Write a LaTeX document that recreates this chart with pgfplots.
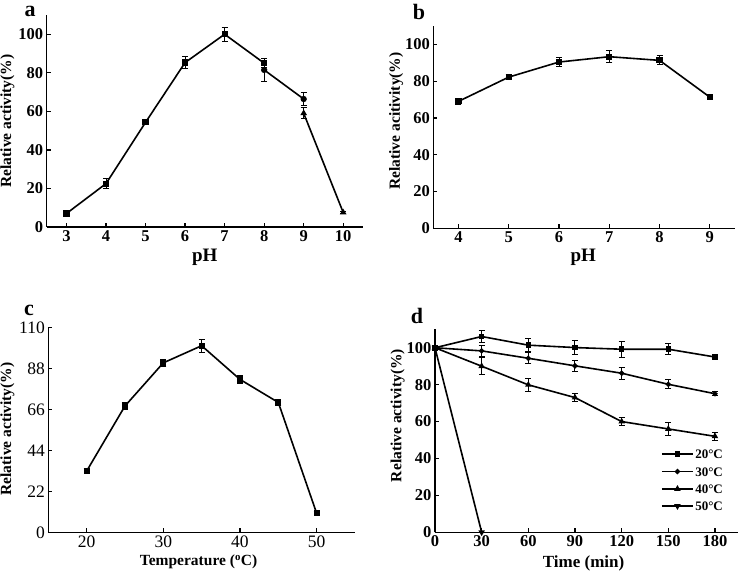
\documentclass[border=0pt]{standalone}
\usepackage{pgfplots}
\pgfplotsset{compat=1.18}
\usepackage{fontspec}
\setmainfont{Liberation Serif}

\pgfplotsset{
  panel/.style={
    scale only axis,
    axis lines=left,
    axis line style={-, line width=1.4pt},
    tick align=inside,
    major tick length=4pt,
    tick style={line width=1.2pt, black},
    clip=false,
    /pgf/number format/assume math mode=true,
    ticklabel style={font=\fontsize{16.5}{18}\selectfont\bfseries},
    label style={font=\fontsize{15.5}{18}\selectfont\bfseries},
    every axis plot/.append style={line width=1.6pt, black, mark size=2.3pt},
  },
  eb/.style={error bars/.cd, y dir=both, y explicit,
    error bar style={line width=1pt},
    error mark options={rotate=90, mark size=3pt, line width=1pt}},
}

\begin{document}
\begin{tikzpicture}
\useasboundingbox (0pt,0pt) rectangle (740pt,572pt);

% ---- a: pH optimum
\begin{axis}[panel, at={(46.7pt,345pt)}, anchor=south west,
  width=316.3pt, height=212pt,
  xmin=2.5, xmax=10.5, ymin=0, ymax=110,
  xtick={3,...,10}, ytick={0,20,...,100},
  xlabel={pH}, ylabel={Relative activity(\%)},
  xlabel style={at={(axis description cs:0.5,-0.145)}, anchor=center,
    font=\fontsize{19}{20}\selectfont\bfseries},
  ylabel style={at={(axis description cs:-0.124,0.5)}, anchor=center}]
\addplot[mark=square*, eb] table[x=x, y=y, y error=e] {
x y e
3 7 1
4 22.5 2.6
5 54.3 0.5
6 85.3 3
7 100 3.5
8 85 2.5
};
\addplot[mark=*, eb] table[x=x, y=y, y error=e] {
x y e
8 81.5 6
9 66.4 3.5
};
\addplot[mark=triangle*, eb] table[x=x, y=y, y error=e] {
x y e
9 59 2.8
10 7.5 0.5
};
\end{axis}

% ---- b: pH stability
\begin{axis}[panel, at={(433.3pt,343.7pt)}, anchor=south west,
  width=301.7pt, height=202.3pt,
  xmin=3.5, xmax=9.5, ymin=0, ymax=110,
  xtick={4,...,9}, ytick={0,20,...,100},
  xlabel={pH}, ylabel={Relative acitivity(\%)},
  xlabel style={at={(axis description cs:0.497,-0.145)}, anchor=center,
    font=\fontsize{19}{20}\selectfont\bfseries},
  ylabel style={at={(axis description cs:-0.123,0.53)}, anchor=center}]
\addplot[mark=square*, eb] table[x=x, y=y, y error=e] {
x y e
4 69 1.5
5 82.2 1.5
6 90.4 2.5
7 93.3 3.4
8 91.3 2.5
9 71.3 1.5
};
\end{axis}

% ---- c: temperature optimum
\begin{axis}[panel, at={(48.3pt,39.7pt)}, anchor=south west,
  width=306.7pt, height=204.6pt,
  xmin=15, xmax=55, ymin=0, ymax=110,
  xtick={20,30,40,50}, ytick={0,22,44,66,88,110},
  ticklabel style={font=\fontsize{17.5}{19}\selectfont},
  xticklabel style={inner sep=1pt, yshift=-2pt},
  xlabel={Temperature (\textsuperscript{o}C)}, ylabel={Relative activity(\%)},
  xlabel style={at={(axis description cs:0.49,-0.146)}, anchor=center, inner sep=0pt},
  ylabel style={at={(axis description cs:-0.133,0.505)}, anchor=center}]
\addplot[mark=square*, eb] table[x=x, y=y, y error=e] {
x y e
20 32.9 1.5
25 67.9 2
30 91.1 2
35 100.3 3.5
40 82.2 2
45 69.8 1.5
50 10.2 1
};
\end{axis}

% ---- d: thermostability
\begin{axis}[panel, at={(435pt,39.7pt)}, anchor=south west,
  width=303.3pt, height=203pt,
  xmin=0, xmax=195, ymin=0, ymax=110,
  xtick={0,30,...,180}, ytick={0,20,...,100},
  xlabel={Time (min)}, ylabel={Relative activity(\%)},
  xlabel style={at={(axis description cs:0.49,-0.155)}, anchor=center,
    font=\fontsize{17}{18}\selectfont\bfseries},
  ylabel style={at={(axis description cs:-0.123,0.575)}, anchor=center},
  legend style={at={(axis description cs:0.745,0.415)}, anchor=north west,
    draw=none, fill=none, font=\fontsize{13}{14}\selectfont\bfseries,
    row sep=5.3pt, inner sep=0pt,
    nodes={inner sep=1.5pt, text height=9pt, text depth=0pt}},
  legend cell align=left,
  legend image code/.code={\draw[mark repeat=2, mark phase=2, #1]
    plot coordinates {(0pt,0pt) (15.5pt,0pt) (31pt,0pt)};}]
\addplot[mark=square*, mark size=2pt, eb] table[x=x, y=y, y error=e] {
x y e
0 100 0
30 106.1 3
60 101.4 3.6
90 100.1 4
120 99.2 4.4
150 99.2 3
180 95 1.5
};
\addplot[mark=*, mark size=1.8pt, eb] table[x=x, y=y, y error=e] {
x y e
0 100 0
30 98.3 3
60 94.3 3
90 90.2 3
120 86.2 3.3
150 80.2 2.5
180 75.1 1
};
\addplot[mark=triangle*, mark size=2.2pt, eb] table[x=x, y=y, y error=e] {
x y e
0 100 0
30 90 4.5
60 79.9 3.5
90 73 2
120 60 2
150 56 3.3
180 52 2
};
\addplot[mark=triangle*, mark size=2.2pt, mark options={rotate=180}] table[x=x, y=y] {
x y
0 100
30 0
};
\legend{20°C, 30°C, 40°C, 50°C}
\end{axis}

\begin{scope}[every node/.style={font=\fontsize{22}{24}\selectfont\bfseries, anchor=base, inner sep=0pt}]
\node at (30pt,555pt) {a};
\node at (419pt,552.7pt) {b};
\node at (29pt,256pt) {c};
\node at (417pt,248.7pt) {d};
\end{scope}
\end{tikzpicture}
\end{document}
